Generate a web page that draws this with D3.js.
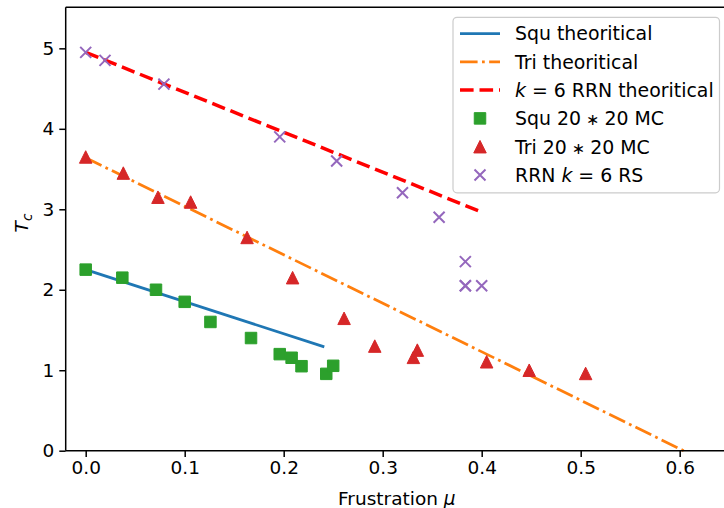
<!DOCTYPE html>
<html>
<head>
  <meta charset="utf-8">
  <title>Tc vs frustration</title>
  <style>
    body { margin: 0; background: #fff; }
    svg { font-family: "DejaVu Sans", sans-serif; }
    .tick text { font-size: 18.5px; fill: #000; }
    .lbl { font-size: 18.5px; fill: #000; }
    .leg { font-size: 18.9px; fill: #000; }
  </style>
</head>
<body>
<svg id="chart" width="724" height="508"></svg>
<script src="https://cdn.jsdelivr.net/npm/d3@7"></script>
<script>
// theoretical lines (mu, Tc)
var squTheory = [[0, 2.25], [0.241, 1.29]];
var triTheory = [[0, 3.64], [0.604, 0]];
var rrnTheory = [[0, 4.95], [0.399, 2.97]];

// Monte Carlo / RS points
var squMC = [[0, 2.25], [0.037, 2.15], [0.071, 2.0], [0.1, 1.85], [0.126, 1.6],
             [0.167, 1.4], [0.196, 1.2], [0.208, 1.155], [0.218, 1.05],
             [0.243, 0.955], [0.25, 1.055]];
var triMC = [[0, 3.65], [0.038, 3.45], [0.073, 3.15], [0.106, 3.09], [0.163, 2.65],
             [0.209, 2.15], [0.261, 1.645], [0.292, 1.3], [0.331, 1.16],
             [0.335, 1.25], [0.405, 1.105], [0.448, 1.0], [0.505, 0.96]];
var rrnRS = [[0, 4.95], [0.0195, 4.85], [0.079, 4.555], [0.196, 3.9], [0.2535, 3.6],
             [0.32, 3.205], [0.357, 2.9], [0.3835, 2.35], [0.3835, 2.05],
             [0.3835, 2.05], [0.4, 2.05]];

var xTicks = [0, 0.1, 0.2, 0.3, 0.4, 0.5, 0.6];
var yTicks = [0, 1, 2, 3, 4, 5];

var L = 65.7, R = 728, T = 7.3, B = 450.7;
var svg = d3.select("#chart");

var x = d3.scaleLinear().domain([-0.0202, 0.6488]).range([L, R]);
var y = d3.scaleLinear().domain([0, 5.51]).range([B, T]);

var plot = svg.append("g");

// axes
var xAxis = d3.axisBottom(x).tickValues(xTicks).tickFormat(d3.format(".1f"))
    .tickSizeInner(6.4).tickSizeOuter(0).tickPadding(4);
var yAxis = d3.axisLeft(y).tickValues(yTicks).tickFormat(d3.format("d"))
    .tickSizeInner(6.4).tickSizeOuter(0).tickPadding(5);
svg.append("g").attr("transform", "translate(0," + B + ")").call(xAxis)
    .call(function(g) { g.select(".domain").remove(); });
svg.append("g").attr("transform", "translate(" + L + ",0)").call(yAxis)
    .call(function(g) { g.select(".domain").remove(); });
svg.selectAll(".tick line").attr("stroke", "#000").attr("stroke-width", 1.5);
svg.selectAll(".tick text").attr("font-family", "DejaVu Sans");

// lines
var line = d3.line().x(function(d) { return x(d[0]); }).y(function(d) { return y(d[1]); });
plot.append("path").datum(squTheory).attr("d", line)
    .attr("fill", "none").attr("stroke", "#1f77b4").attr("stroke-width", 2.75);
plot.append("path").datum(triTheory).attr("d", line)
    .attr("fill", "none").attr("stroke", "#ff7f0e").attr("stroke-width", 2.75)
    .attr("stroke-dasharray", "17.6,4.4,2.75,4.4");
plot.append("path").datum(rrnTheory).attr("d", line)
    .attr("fill", "none").attr("stroke", "#ff0000").attr("stroke-width", 3.5)
    .attr("stroke-dasharray", "13.6,5.9");

// marker shapes
function sq(s) { var h = s / 2; return "M" + (-h) + "," + (-h) + "h" + s + "v" + s + "h" + (-s) + "Z"; }
function tri(s) { var h = s / 2; return "M0," + (-h) + "L" + h + "," + h + "L" + (-h) + "," + h + "Z"; }
function cross(s) { var h = s / 2; return "M" + (-h) + "," + (-h) + "L" + h + "," + h + "M" + (-h) + "," + h + "L" + h + "," + (-h); }

function markers(data, pathStr, fill, stroke, sw) {
  plot.append("g").selectAll("path").data(data).enter().append("path")
    .attr("transform", function(d) { return "translate(" + x(d[0]) + "," + y(d[1]) + ")"; })
    .attr("d", pathStr)
    .attr("fill", fill).attr("stroke", stroke).attr("stroke-width", sw);
}
markers(squMC, sq(11.5), "#2ca02c", "#2ca02c", 1);
markers(triMC, tri(12.5), "#d62728", "#d62728", 1);
markers(rrnRS, cross(11), "none", "#9467bd", 2);

// spines
var sp = svg.append("g").attr("stroke", "#000").attr("stroke-width", 1.5);
sp.append("line").attr("x1", L).attr("x2", L).attr("y1", T).attr("y2", B);
sp.append("line").attr("x1", L).attr("x2", R).attr("y1", B).attr("y2", B);
sp.append("line").attr("x1", L).attr("x2", R).attr("y1", T).attr("y2", T);
sp.append("line").attr("x1", R).attr("x2", R).attr("y1", T).attr("y2", B);

// axis labels
var xl = svg.append("text").attr("class", "lbl").attr("x", (L + R) / 2).attr("y", 505)
    .attr("text-anchor", "middle");
xl.append("tspan").text("Frustration ");
xl.append("tspan").attr("font-style", "italic").text("μ");

var yl = svg.append("text").attr("class", "lbl")
    .attr("transform", "translate(28," + ((T + B) / 2 - 6) + ") rotate(-90)")
    .attr("text-anchor", "middle");
yl.append("tspan").attr("font-style", "italic").text("T");
yl.append("tspan").attr("font-style", "italic").attr("font-size", "13.5px")
    .attr("dy", 3.5).text("c");

// legend
var leg = svg.append("g");
leg.append("rect").attr("x", 453).attr("y", 17.3).attr("width", 266.5).attr("height", 175.5)
    .attr("rx", 4).attr("fill", "#fff").attr("fill-opacity", 0.8)
    .attr("stroke", "#cccccc").attr("stroke-width", 1.2);

var legItems = [
  {kind: "line", color: "#1f77b4", dash: null, w: 2.75, parts: [["Squ theoritical", false]]},
  {kind: "line", color: "#ff7f0e", dash: "17.6,4.4,2.75,4.4", w: 2.75, parts: [["Tri theoritical", false]]},
  {kind: "line", color: "#ff0000", dash: "13.6,5.9", w: 3.5, parts: [["k", true], [" = 6 RRN theoritical", false]]},
  {kind: "sq", color: "#2ca02c", parts: [["Squ 20", false], ["∗", "light"], ["20 MC", false]]},
  {kind: "tri", color: "#d62728", parts: [["Tri 20", false], ["∗", "light"], ["20 MC", false]]},
  {kind: "x", color: "#9467bd", parts: [["RRN ", false], ["k", true], [" = 6 RS", false]]}
];
legItems.forEach(function(it, i) {
  var cy = 33.5 + i * 28.3;
  if (it.kind === "line") {
    leg.append("line").attr("x1", 460).attr("x2", 500).attr("y1", cy).attr("y2", cy)
      .attr("stroke", it.color).attr("stroke-width", it.w)
      .attr("stroke-dasharray", it.dash);
  } else {
    var p = it.kind === "sq" ? sq(11.5) : it.kind === "tri" ? tri(12.5) : cross(11);
    leg.append("path").attr("transform", "translate(480," + cy + ")").attr("d", p)
      .attr("fill", it.kind === "x" ? "none" : it.color).attr("stroke", it.color)
      .attr("stroke-width", it.kind === "x" ? 2 : 1);
  }
  var t = leg.append("text").attr("class", "leg").attr("x", 515).attr("y", cy + 6.9)
      .attr("xml:space", "preserve").style("white-space", "pre");
  it.parts.forEach(function(pt) {
    var s = t.append("tspan").text(pt[0]);
    if (pt[1] === true) s.attr("font-style", "italic");
    if (pt[1] === "light") s.attr("dx", 5).attr("font-size", "16px").attr("dy", 0);
    if (pt[0] === "20 MC") s.attr("dx", 5);
  });
});
</script>
</body>
</html>
